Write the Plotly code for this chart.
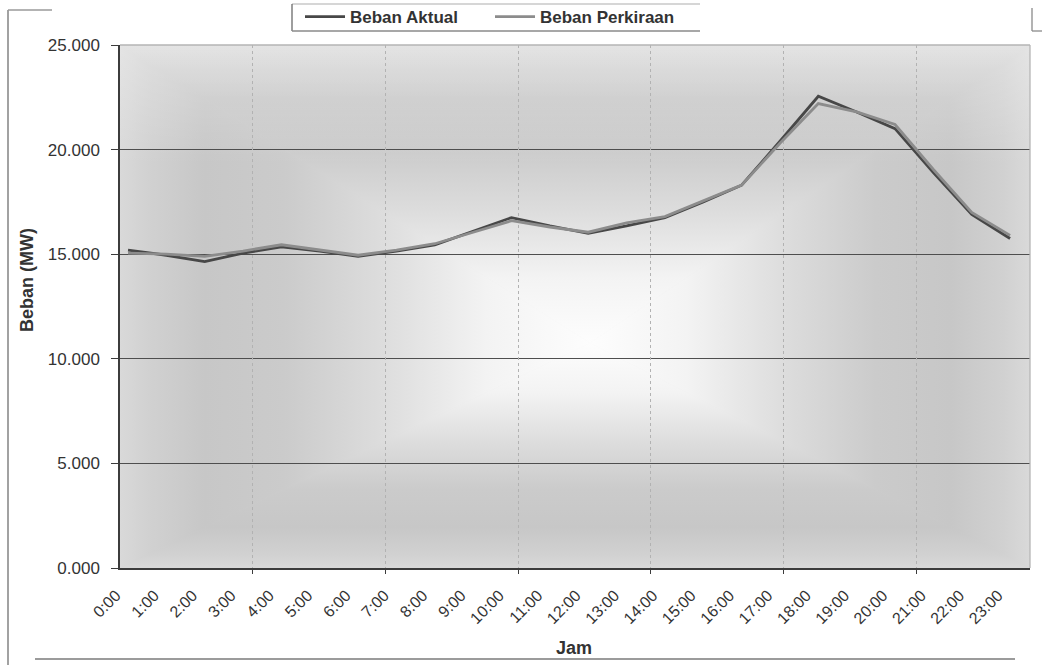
import base64
import plotly.graph_objects as go

# Hourly load profile (MW)
jam = ["0:00", "1:00", "2:00", "3:00", "4:00", "5:00", "6:00", "7:00", "8:00", "9:00",
       "10:00", "11:00", "12:00", "13:00", "14:00", "15:00", "16:00", "17:00", "18:00",
       "19:00", "20:00", "21:00", "22:00", "23:00"]
beban_aktual = [15200, 14950, 14650, 15050, 15350, 15150, 14900, 15150, 15450, 16100,
                16750, 16350, 16000, 16350, 16750, 17500, 18300, 20400, 22550, 21800,
                21000, 18900, 16900, 15750]
beban_perkiraan = [15050, 15000, 14900, 15150, 15450, 15200, 14950, 15200, 15500, 16050,
                   16600, 16300, 16050, 16500, 16800, 17550, 18300, 20300, 22200, 21800,
                   21200, 19050, 17000, 15900]
y_ticks = [0, 5000, 10000, 15000, 20000, 25000]
y_tick_text = ["0.000", "5.000", "10.000", "15.000", "20.000", "25.000"]

FONT = "Liberation Sans, Arial, sans-serif"
W, H = 1042, 665
L, R, T, B = 120, 1030, 45, 568  # plot area in pixels


def px(x):
    return (x - L) / (R - L)


def py(y):
    return (B - y) / (B - T)


# Rectangular "from centre" gradient for the plot area, built from four
# triangles that each fade from the centre point out to one edge, plus a
# soft light wash along the top.
PW, PH = R - L, B - T
CX, CY = 470, 298
stops = [(0.0, "#fdfdfd"), (0.22, "#f3f3f3"), (0.45, "#dcdcdc"), (0.65, "#cbcbcb"),
         (0.82, "#c7c7c7"), (0.94, "#d1d1d1"), (1.0, "#d9d9d9")]
stop_xml = "".join(f'<stop offset="{o}" stop-color="{c}"/>' for o, c in stops)
tri = {
    "t": ((0, 0), (PW, 0), (CX, CY), (CX, CY, CX, 0)),
    "b": ((0, PH), (PW, PH), (CX, CY), (CX, CY, CX, PH)),
    "l": ((0, 0), (0, PH), (CX, CY), (CX, CY, 0, CY)),
    "r": ((PW, 0), (PW, PH), (CX, CY), (CX, CY, PW, CY)),
}
defs, polys = [], []
for k, (p1, p2, p3, (x1, y1, x2, y2)) in tri.items():
    defs.append(f'<linearGradient id="g{k}" gradientUnits="userSpaceOnUse" '
                f'x1="{x1}" y1="{y1}" x2="{x2}" y2="{y2}">{stop_xml}</linearGradient>')
    pts = " ".join(f"{a},{b}" for a, b in (p1, p2, p3))
    polys.append(f'<polygon points="{pts}" fill="url(#g{k})" stroke="url(#g{k})" stroke-width="0.8"/>')
defs.append('<linearGradient id="wash" x1="0" y1="0" x2="0" y2="1">'
            '<stop offset="0" stop-color="#ffffff" stop-opacity="0.3"/>'
            '<stop offset="1" stop-color="#ffffff" stop-opacity="0"/></linearGradient>')
polys.append(f'<rect width="{PW}" height="120" fill="url(#wash)"/>')
svg = (f'<svg xmlns="http://www.w3.org/2000/svg" width="{PW}" height="{PH}" '
       f'viewBox="0 0 {PW} {PH}" preserveAspectRatio="none"><defs>{"".join(defs)}</defs>'
       f'<rect width="{PW}" height="{PH}" fill="#d2d2d2"/>{"".join(polys)}</svg>')
bg_uri = "data:image/svg+xml;base64," + base64.b64encode(svg.encode()).decode()

x_idx = list(range(len(jam)))

fig = go.Figure()
fig.add_trace(go.Scatter(x=x_idx, y=beban_aktual, mode="lines", name="<b>Beban Aktual</b>",
                         line=dict(color="#474747", width=2.8)))
fig.add_trace(go.Scatter(x=x_idx, y=beban_perkiraan, mode="lines", name="<b>Beban Perkiraan</b>",
                         line=dict(color="#8c8c8c", width=2.8)))
# overlay axis carrying the major tick marks / dotted verticals
fig.add_trace(go.Scatter(x=[0], y=[0], xaxis="x2", mode="markers",
                         marker=dict(opacity=0), showlegend=False, hoverinfo="skip"))

span = PW / 38.35
fig.update_layout(
    width=W, height=H,
    margin=dict(l=L, r=W - R, t=T, b=H - B, autoexpand=False),
    paper_bgcolor="white",
    plot_bgcolor="rgba(0,0,0,0)",
    font=dict(family=FONT, color="#333333"),
    xaxis=dict(
        range=[-0.209, -0.209 + span],
        tickmode="array", tickvals=x_idx, ticktext=jam,
        tickangle=-45, tickfont=dict(size=16, color="#333333"),
        ticks="", showgrid=False, zeroline=False,
        showline=True, linecolor="#3c3c3c", linewidth=1.5,
        ticklabelshift=-12, ticklabelstandoff=10,
    ),
    xaxis2=dict(
        overlaying="x", side="bottom", range=[0, PW / 132.7],
        tickmode="array", tickvals=[1, 2, 3, 4, 5, 6],
        ticks="outside", ticklen=5, tickcolor="#3c3c3c",
        showticklabels=False, showgrid=True, gridcolor="#b2b2b2",
        griddash="dot", gridwidth=1, zeroline=False, showline=False,
    ),
    yaxis=dict(
        range=[0, 25000], tickmode="array", tickvals=y_ticks, ticktext=y_tick_text,
        tickfont=dict(size=17, color="#333333"),
        ticks="outside", ticklen=7, tickcolor="#3c3c3c",
        showgrid=True, gridcolor="#4e4e4e", gridwidth=1.4,
        zeroline=False, showline=True, linecolor="#3c3c3c", linewidth=1.5,
        ticklabelstandoff=8,
    ),
    legend=dict(
        orientation="h", x=px(300), y=py(17), xanchor="left", yanchor="middle",
        font=dict(size=17, color="#333333", family=FONT),
        bgcolor="rgba(0,0,0,0)", borderwidth=0,
        entrywidth=135, entrywidthmode="pixels", itemwidth=40,
    ),
    images=[dict(source=bg_uri, xref="paper", yref="paper", x=0, y=1,
                 sizex=1, sizey=1, sizing="stretch", layer="below")],
    showlegend=True,
)

# axis titles
fig.add_annotation(text="<b>Beban (MW)</b>", textangle=-90, xref="paper", yref="paper",
                   x=px(27), y=py(280), xanchor="center", yanchor="middle", showarrow=False,
                   font=dict(size=18, color="#333333", family=FONT))
fig.add_annotation(text="<b>Jam</b>", xref="paper", yref="paper",
                   x=px(574), y=py(648), xanchor="center", yanchor="middle", showarrow=False,
                   font=dict(size=18, color="#333333", family=FONT))

# plot-area border (top / right) and outer frame pieces
frame = [
    (L, T, R, T, "#b5b5b5"), (R, T, R, B, "#b5b5b5"),
    (8, 10, 8, 665, "#707070"), (8, 10, 52, 10, "#9a9a9a"),
    (35, 659, 1015, 659, "#7a7a7a"),
    (1032, 8, 1032, 31, "#8a8a8a"), (1032, 31, 1042, 31, "#8a8a8a"),
    (292, 4, 700, 4, "#c8c8c8"), (292, 4, 292, 31, "#6a6a6a"), (292, 31, 700, 31, "#8a8a8a"),
]
for x0, y0, x1, y1, c in frame:
    fig.add_shape(type="line", xref="paper", yref="paper",
                  x0=px(x0), y0=py(y0), x1=px(x1), y1=py(y1),
                  line=dict(color=c, width=1.3))

fig.write_html("out.html")
